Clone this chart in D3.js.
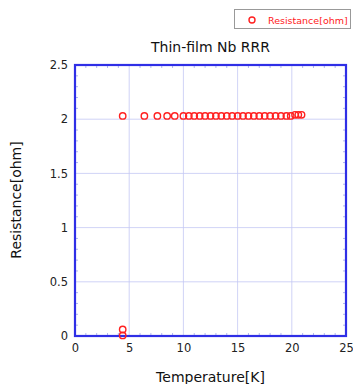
<!DOCTYPE html>
<html><head><meta charset="utf-8">
<script src="https://cdn.jsdelivr.net/npm/d3@7"></script>
<style>body{margin:0;background:#fff;} svg{display:block;}</style>
</head><body>
<svg id="c" width="353" height="384"></svg>
<script>
const temperature = [4.4, 4.4, 4.4, 6.4, 7.6, 8.5, 9.2, 10.0, 10.5, 11.0, 11.5, 12.0, 12.5, 13.0, 13.5, 14.0, 14.5, 15.0, 15.5, 16.0, 16.5, 17.0, 17.5, 18.0, 18.5, 19.0, 19.5, 19.9, 20.3, 20.6, 20.9];
const resistance  = [2.03, 0.06, 0.005, 2.03, 2.03, 2.03, 2.03, 2.03, 2.03, 2.03, 2.03, 2.03, 2.03, 2.03, 2.03, 2.03, 2.03, 2.03, 2.03, 2.03, 2.03, 2.03, 2.03, 2.03, 2.03, 2.03, 2.03, 2.03, 2.04, 2.04, 2.04];
const xTicks = [0, 5, 10, 15, 20, 25];
const yTicks = [0, 0.5, 1, 1.5, 2, 2.5];
const title = "Thin-film Nb RRR";
const xLabel = "Temperature[K]";
const yLabel = "Resistance[ohm]";
const seriesName = "Resistance[ohm]";

const svg = d3.select("#c");
const font = "'DejaVu Sans', Verdana, sans-serif";
const L = 75, R = 346, T = 65, B = 336;
const x = d3.scaleLinear().domain([0, 25]).range([L, R]);
const y = d3.scaleLinear().domain([0, 2.5]).range([B, T]);
const frame = "#2f2fe6";

// gridlines
svg.append("g").selectAll("line").data(xTicks.slice(1, -1)).join("line")
  .attr("x1", d => x(d)).attr("x2", d => x(d)).attr("y1", T).attr("y2", B)
  .attr("stroke", "#c4c8f4").attr("stroke-width", 0.8);
svg.append("g").selectAll("line").data(yTicks.slice(1, -1)).join("line")
  .attr("y1", d => y(d)).attr("y2", d => y(d)).attr("x1", L).attr("x2", R)
  .attr("stroke", "#c4c8f4").attr("stroke-width", 0.8);

// minor ticks inward
const xMinor = d3.range(1, 25).filter(v => v % 5 !== 0);
const yMinor = d3.range(1, 25).map(v => v / 10).filter(v => Math.round(v * 10) % 5 !== 0);
const mt = svg.append("g").attr("stroke", "#9ea3ec").attr("stroke-width", 0.8);
xMinor.forEach(v => {
  mt.append("line").attr("x1", x(v)).attr("x2", x(v)).attr("y1", B).attr("y2", B - 3);
  mt.append("line").attr("x1", x(v)).attr("x2", x(v)).attr("y1", T).attr("y2", T + 3);
});
yMinor.forEach(v => {
  mt.append("line").attr("y1", y(v)).attr("y2", y(v)).attr("x1", L).attr("x2", L + 3);
  mt.append("line").attr("y1", y(v)).attr("y2", y(v)).attr("x1", R).attr("x2", R - 3);
});

// frame
svg.append("rect").attr("x", L).attr("y", T).attr("width", R - L).attr("height", B - T)
  .attr("fill", "none").attr("stroke", frame).attr("stroke-width", 2.2);

// axes labels via d3 axes
const xAxis = svg.append("g").attr("transform", `translate(0,${B})`)
  .call(d3.axisBottom(x).tickValues(xTicks).tickSize(0).tickPadding(8).tickFormat(d3.format("d")));
xAxis.select(".domain").remove();
xAxis.selectAll("text").attr("font-family", font).attr("font-size", 11.5).attr("fill", "#222");
const yAxis = svg.append("g").attr("transform", `translate(${L},0)`)
  .call(d3.axisLeft(y).tickValues(yTicks).tickSize(0).tickPadding(7).tickFormat(d => d3.format("")(d)));
yAxis.select(".domain").remove();
yAxis.selectAll("text").attr("font-family", font).attr("font-size", 11.5).attr("fill", "#222");

// points
svg.append("g").selectAll("circle").data(temperature.map((t, i) => [t, resistance[i]])).join("circle")
  .attr("cx", d => x(d[0])).attr("cy", d => y(d[1])).attr("r", 3.2)
  .attr("fill", "none").attr("stroke", "#ff2020").attr("stroke-width", 1.4);

// title
svg.append("text").attr("x", 210.5).attr("y", 52).attr("text-anchor", "middle")
  .attr("font-family", font).attr("font-size", 14).attr("fill", "#111").text(title);
svg.append("text").attr("x", 210.5).attr("y", 382).attr("text-anchor", "middle")
  .attr("font-family", font).attr("font-size", 14).attr("fill", "#111").text(xLabel);
svg.append("text").attr("transform", "translate(21,200) rotate(-90)").attr("text-anchor", "middle")
  .attr("font-family", font).attr("font-size", 14).attr("fill", "#111").text(yLabel);

// legend
svg.append("rect").attr("x", 234.5).attr("y", 9.5).attr("width", 116).attr("height", 19)
  .attr("fill", "#fff").attr("stroke", "#999").attr("stroke-width", 1);
svg.append("circle").attr("cx", 252).attr("cy", 20).attr("r", 3)
  .attr("fill", "none").attr("stroke", "#ff2020").attr("stroke-width", 1.4);
svg.append("text").attr("x", 268).attr("y", 23.5).attr("font-family", font).attr("font-size", 9.5)
  .attr("fill", "#ff2020").text(seriesName);
</script>
</body></html>
